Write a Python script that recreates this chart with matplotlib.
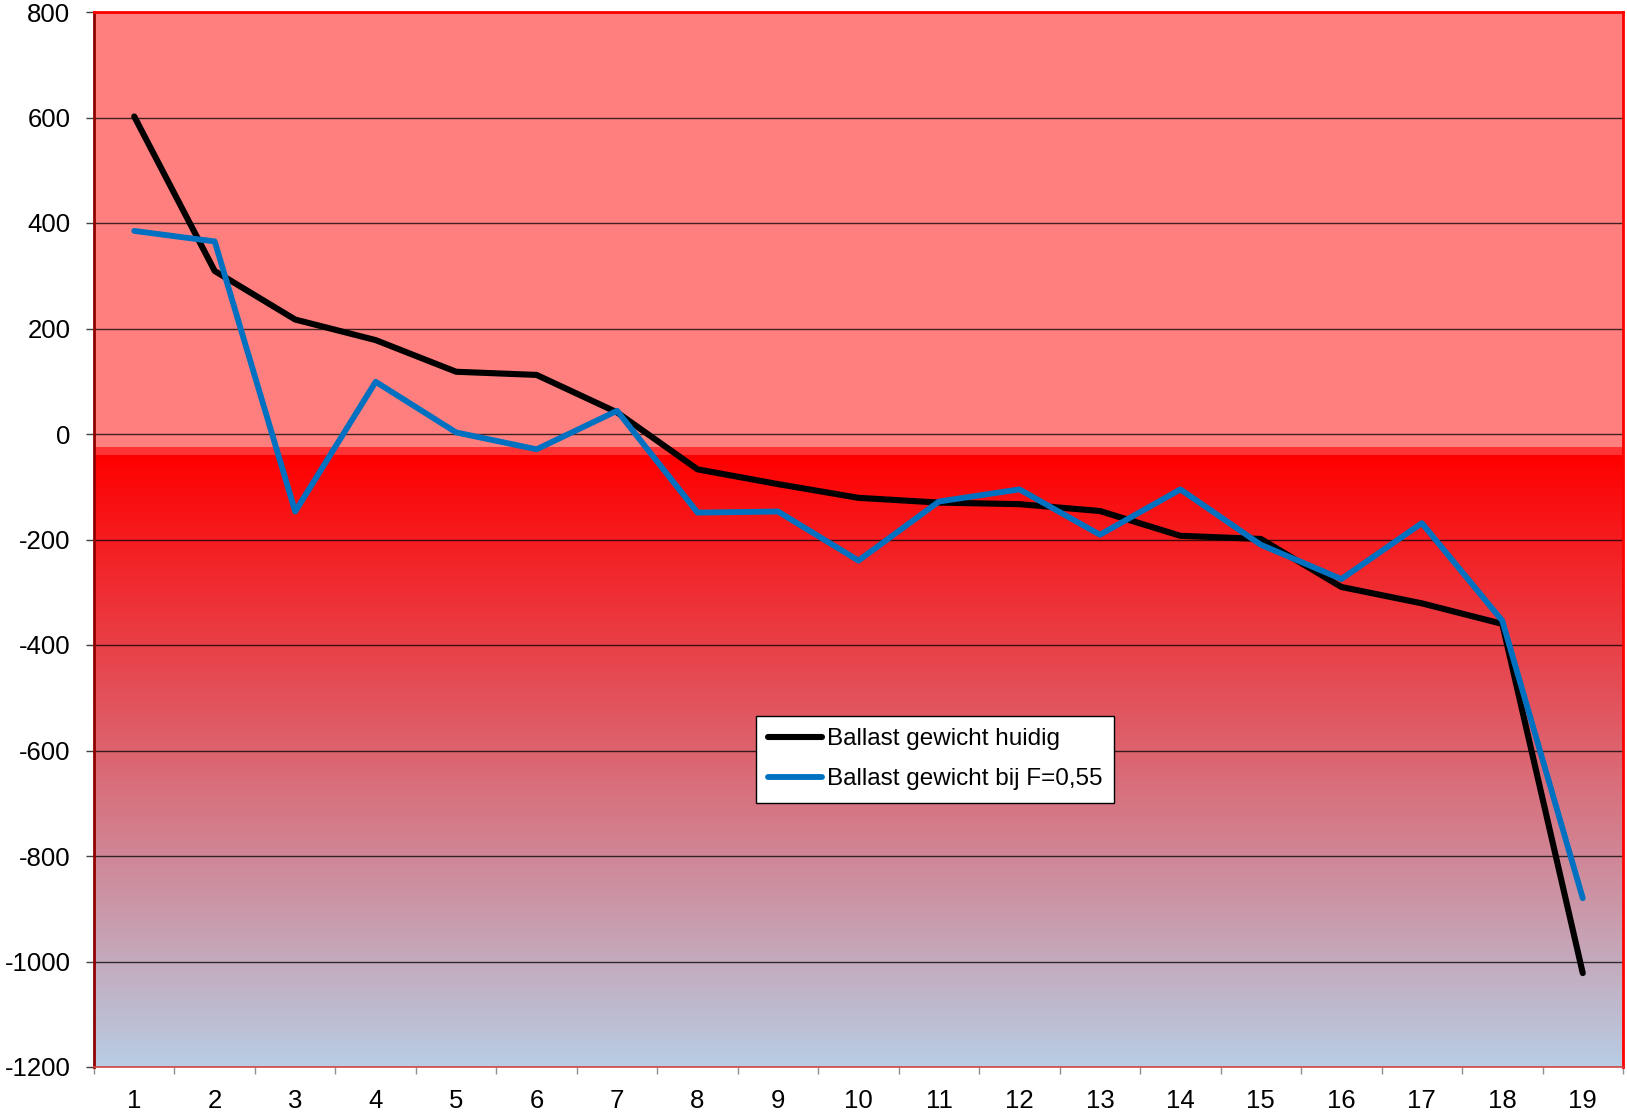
import numpy as np
import matplotlib
matplotlib.use("Agg")
import matplotlib.pyplot as plt
from matplotlib.colors import LinearSegmentedColormap

plt.rcParams['font.family'] = ['Liberation Sans', 'DejaVu Sans']
plt.rcParams['axes.unicode_minus'] = False

categories = list(range(1, 20))
huidig = [602, 309, 217, 178, 118, 112, 41, -67, -95, -121, -130, -133, -146, -193, -199, -290, -321, -360, -1022]
f055 = [385, 365, -147, 99, 3, -29, 44, -149, -147, -240, -128, -105, -191, -105, -210, -275, -169, -354, -880]
labels = ['Ballast gewicht huidig', 'Ballast gewicht bij F=0,55']
yticks = [800, 600, 400, 200, 0, -200, -400, -600, -800, -1000, -1200]

fig = plt.figure(figsize=(16.27, 11.16), dpi=100)
ax = fig.add_axes([94/1627, 1-1067/1116, 1529/1627, 1055/1116])

x = np.arange(1, len(categories) + 1)
xmin, xmax = 0.5, len(categories) + 0.5
ymin, ymax = -1200, 800

# background bands
ax.axhspan(-25, ymax, color='#FF7F7F', zorder=0, lw=0)
ax.axhspan(-41, -25, color='#FF3333', zorder=0, lw=0)
cmap = LinearSegmentedColormap.from_list('g', ['#FF0000', '#B8CDE4'])
grad = np.linspace(0, 1, 256).reshape(-1, 1)
ax.imshow(grad, cmap=cmap, extent=[xmin, xmax, ymin, -41], aspect='auto', origin='upper', zorder=0)

ax.set_axisbelow(True)
ax.grid(axis='y', color='black', alpha=0.75, lw=1.0)

ax.plot(x, huidig, color='black', lw=4.4, solid_capstyle='round', solid_joinstyle='round', label=labels[0], zorder=3)
ax.plot(x, f055, color='#0070C0', lw=4.2, solid_capstyle='round', solid_joinstyle='round', label=labels[1], zorder=4)

ax.set_xlim(xmin, xmax)
ax.set_ylim(ymin, ymax)
ax.set_yticks(yticks)
ax.set_yticklabels([str(v) for v in yticks])
ax.set_xticks(x)
ax.set_xticklabels([str(c) for c in categories])
ax.set_xticks(np.arange(xmin, xmax + 0.01, 1.0), minor=True)

ax.tick_params(axis='y', length=6, width=1, color='#404040', pad=11, labelsize=18.5)
ax.tick_params(axis='x', which='major', length=0, pad=16, labelsize=18.5)
ax.tick_params(axis='x', which='minor', length=5, width=1, color='#909090')

ax.spines['left'].set_color('#900000')
ax.spines['left'].set_linewidth(2)
ax.spines['top'].set_color('#FF0000')
ax.spines['top'].set_linewidth(2)
ax.spines['right'].set_color('#FF0000')
ax.spines['right'].set_linewidth(2)
ax.spines['bottom'].set_color('#D04848')
ax.spines['bottom'].set_linewidth(1.2)

leg = ax.legend(loc='upper left', bbox_to_anchor=(0.433, 0.3327), borderaxespad=0,
                fontsize=17.5, frameon=True, fancybox=False, framealpha=1,
                handlelength=2.2, handletextpad=0.2, labelspacing=0.75, borderpad=0.5)
leg.get_frame().set_edgecolor('black')
leg.get_frame().set_linewidth(1)

fig.savefig('out.png', dpi=100)
